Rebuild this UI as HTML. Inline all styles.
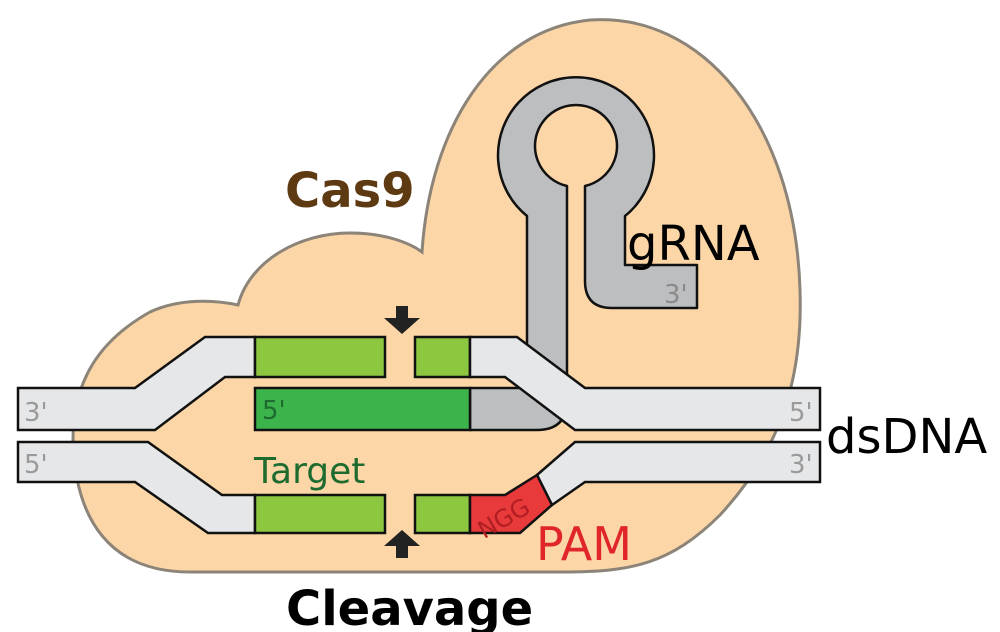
<!DOCTYPE html>
<html><head><meta charset="utf-8"><style>
html,body{margin:0;padding:0;background:#fff;}
svg{display:block;}
text{font-family:"DejaVu Sans","Liberation Sans",sans-serif;}
</style></head><body>
<svg width="1000" height="632" viewBox="0 0 1000 632" xmlns="http://www.w3.org/2000/svg">
<path d="M 73 440 C 73 380 100 340 150 312 C 180 298 215 300 238 305 C 250 260 300 233 350 233 C 385 233 410 243 422 252 C 430 130 490 30 590 20 C 700 12 795 120 800 290 C 803 380 780 450 720 515 C 670 565 630 571 570 572 L 190 572 C 110 572 75 520 73 440 Z" fill="#fcd6a6" stroke="#8c8478" stroke-width="3"/>
<path d="M 470 388 L 527 388 L 527 216 A 78 78 0 1 1 625 216 L 625 265 L 697 265 L 697 308 L 612 308 Q 585 308 585 281 L 585 186 A 41 41 0 1 0 567 186 L 567 400 Q 567 430 537 430 L 470 430 Z" fill="#bcbec0" stroke="#111" stroke-width="2.5" stroke-linejoin="round"/>
<text x="664" y="303" font-size="26" fill="#8a8a8a">3'</text>
<rect x="255" y="388" width="215" height="42" fill="#3cb44b" stroke="#111" stroke-width="2.5"/>
<text x="262" y="419" font-size="26" fill="#1e6b30">5'</text>
<path d="M 18 388 L 135 388 L 205 337 L 255 337 L 255 377 L 225 377 L 155 430 L 18 430 Z" fill="#e6e7e8" stroke="#111" stroke-width="2.5"/>
<rect x="255" y="337" width="130" height="40" fill="#8dc63f" stroke="#111" stroke-width="2.5"/>
<rect x="415" y="337" width="55" height="40" fill="#8dc63f" stroke="#111" stroke-width="2.5"/>
<path d="M 470 337 L 517 337 L 585 388 L 820 388 L 820 430 L 575 430 L 505 377 L 470 377 Z" fill="#e6e7e8" stroke="#111" stroke-width="2.5"/>
<path d="M 18 442 L 148 442 L 222 495 L 255 495 L 255 533 L 208 533 L 135 482 L 18 482 Z" fill="#e6e7e8" stroke="#111" stroke-width="2.5"/>
<rect x="255" y="495" width="130" height="38" fill="#8dc63f" stroke="#111" stroke-width="2.5"/>
<rect x="415" y="495" width="55" height="38" fill="#8dc63f" stroke="#111" stroke-width="2.5"/>
<path d="M 537 475 L 575 442 L 820 442 L 820 482 L 585 482 L 552 505 Z" fill="#e6e7e8" stroke="#111" stroke-width="2.5"/>
<path d="M 470 495 L 505 495 L 537 475 L 552 505 L 520 533 L 470 533 Z" fill="#e8393b" stroke="#111" stroke-width="2.5"/>
<text x="474" y="528" font-size="24" fill="#b01e22" transform="rotate(-30 500 515)">NGG</text>
<text x="24" y="421" font-size="26" fill="#9a9a9a">3'</text>
<text x="789" y="421" font-size="26" fill="#9a9a9a">5'</text>
<text x="24" y="473" font-size="26" fill="#9a9a9a">5'</text>
<text x="789" y="473" font-size="26" fill="#9a9a9a">3'</text>
<path d="M 396 306 L 408 306 L 408 318 L 420 318 L 402 334 L 384 318 L 396 318 Z" fill="#222"/>
<path d="M 396 558 L 408 558 L 408 546 L 420 546 L 402 530 L 384 546 L 396 546 Z" fill="#222"/>
<text x="285" y="207" font-size="48" font-weight="bold" fill="#5e3a12">Cas9</text>
<text x="627" y="260" font-size="48" fill="#000">gRNA</text>
<text x="826" y="453" font-size="48" fill="#000">dsDNA</text>
<text x="254" y="483" font-size="36" fill="#1e6b30">Target</text>
<text x="536" y="560" font-size="46" fill="#e0262a">PAM</text>
<text x="286" y="625" font-size="48" font-weight="bold" fill="#000">Cleavage</text>
</svg>
</body></html>
